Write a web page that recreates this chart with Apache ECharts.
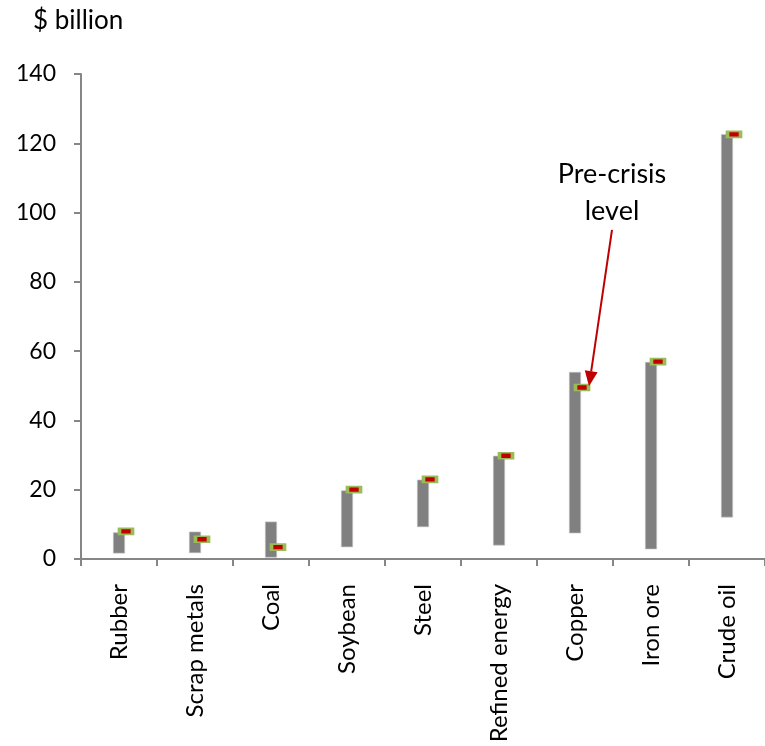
<!DOCTYPE html>
<html>
<head>
<meta charset="utf-8">
<script src="https://cdn.jsdelivr.net/npm/echarts@6/dist/echarts.min.js"></script>
<style>
  html, body { margin: 0; padding: 0; background: #fff; }
  #chart { width: 765px; height: 746px; }
</style>
</head>
<body>
<div id="chart"></div>
<script>
// Commodity import bill ranges ($ billion) with pre-crisis levels
const categories = ['Rubber', 'Scrap metals', 'Coal', 'Soybean', 'Steel', 'Refined energy', 'Copper', 'Iron ore', 'Crude oil'];
const lowValues  = [1.6, 1.7, 0.4, 3.4, 9.2, 3.9, 7.4, 2.8, 12.0];
const highValues = [7.7, 7.9, 10.8, 19.8, 22.9, 29.8, 54.0, 56.9, 122.6];
const preCrisis  = [8.0, 5.7, 3.4, 20.0, 23.0, 29.8, 49.5, 57.0, 122.6];
const yTicks = { min: 0, max: 140, interval: 20 };

// annotation: category it points to, value at arrow tip, value at arrow start, text lines
const noteCategory = 'Copper';
const noteTipValue = 49.9;
const noteStartValue = 95;
const noteLines = ['Pre-crisis', 'level'];

const FONT = 'Lato';
const AXIS_GREY = '#868686';

const rangeSpans = highValues.map((h, i) => +(h - lowValues[i]).toFixed(2));
const noteIndex = categories.indexOf(noteCategory);

const chart = echarts.init(document.getElementById('chart'), null, { renderer: 'canvas' });

chart.setOption({
  backgroundColor: '#ffffff',
  animation: false,
  textStyle: { fontFamily: FONT },
  graphic: [{
    type: 'text',
    left: 33,
    top: 8,
    style: { text: '$ billion', font: '26px ' + FONT, fill: '#000' }
  }],
  grid: { left: 81, top: 74, width: 690, height: 485, containLabel: false },
  xAxis: {
    type: 'category',
    data: categories,
    boundaryGap: true,
    axisLine: { lineStyle: { color: AXIS_GREY, width: 2 } },
    axisTick: { show: true, length: 7, alignWithLabel: false, lineStyle: { color: AXIS_GREY, width: 2 } },
    axisLabel: {
      rotate: 90,
      margin: 25,
      interval: 0,
      color: '#000',
      fontFamily: FONT,
      fontSize: 24
    },
    splitLine: { show: false }
  },
  yAxis: {
    type: 'value',
    min: yTicks.min,
    max: yTicks.max,
    interval: yTicks.interval,
    axisLine: { show: true, lineStyle: { color: AXIS_GREY, width: 2 } },
    axisTick: { show: true, inside: false, length: 7, lineStyle: { color: AXIS_GREY, width: 2 } },
    axisLabel: { margin: 25, color: '#000', fontFamily: FONT, fontSize: 23 },
    splitLine: { show: false }
  },
  series: [
    {
      name: 'base',
      type: 'bar',
      stack: 'range',
      data: lowValues,
      barWidth: 12,
      itemStyle: { color: 'transparent' },
      silent: true
    },
    {
      name: 'range',
      type: 'bar',
      stack: 'range',
      data: rangeSpans,
      barWidth: 12,
      itemStyle: { color: '#808080', borderColor: '#c8c8c8', borderWidth: 0.6 }
    },
    {
      name: 'Pre-crisis level',
      type: 'scatter',
      data: preCrisis,
      symbol: 'rect',
      symbolSize: [13, 6],
      symbolOffset: [7, 0],
      z: 5,
      itemStyle: { color: '#c00000', borderColor: '#9bbb59', borderWidth: 2.5, opacity: 1 }
    },
    {
      name: 'note',
      type: 'custom',
      z: 6,
      silent: true,
      data: [[noteIndex, noteTipValue, noteStartValue]],
      renderItem: function (params, api) {
        const tipBase = api.coord([api.value(0), api.value(1)]);
        const startBase = api.coord([api.value(0), api.value(2)]);
        const tip = [tipBase[0] + 14, tipBase[1]];
        const start = [startBase[0] + 37, startBase[1]];
        const dx = tip[0] - start[0], dy = tip[1] - start[1];
        const len = Math.sqrt(dx * dx + dy * dy);
        const ux = dx / len, uy = dy / len;
        const headLen = 15, headHalf = 6.5;
        const bx = tip[0] - ux * headLen, by = tip[1] - uy * headLen;
        const px = -uy, py = ux;
        return {
          type: 'group',
          children: [
            {
              type: 'line',
              shape: { x1: start[0], y1: start[1], x2: bx, y2: by },
              style: { stroke: '#c00000', lineWidth: 2 }
            },
            {
              type: 'polygon',
              shape: { points: [tip, [bx + px * headHalf, by + py * headHalf], [bx - px * headHalf, by - py * headHalf]] },
              style: { fill: '#c00000' }
            },
            {
              type: 'text',
              x: start[0],
              y: start[1] - 56,
              style: { text: noteLines[0], font: '27px ' + FONT, fill: '#000', align: 'center', verticalAlign: 'middle' }
            },
            {
              type: 'text',
              x: start[0],
              y: start[1] - 19,
              style: { text: noteLines[1], font: '27px ' + FONT, fill: '#000', align: 'center', verticalAlign: 'middle' }
            }
          ]
        };
      }
    }
  ]
});
</script>
</body>
</html>
